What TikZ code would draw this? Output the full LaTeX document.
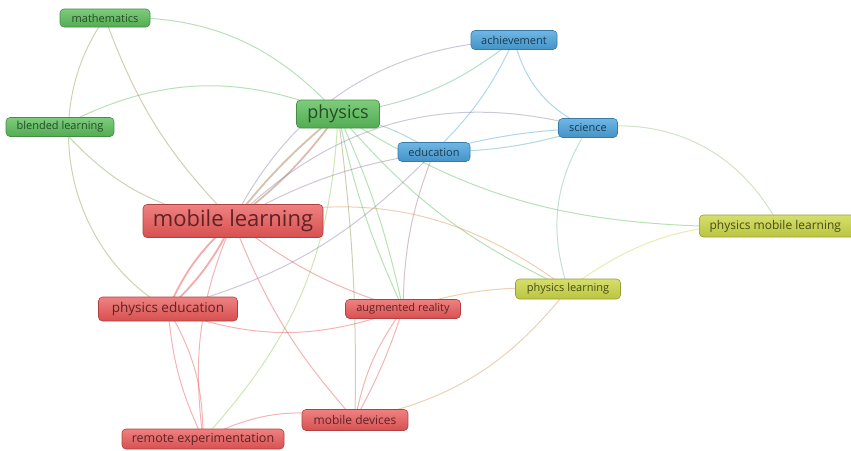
\documentclass[tikz,border=0pt]{standalone}
\usepackage{fontspec}
\setmainfont{Open Sans}
\usetikzlibrary{positioning}
\pgfdeclarelayer{background}
\pgfsetlayers{background,main}
\definecolor{clgreen}{HTML}{5CBF5C}
\definecolor{clblue}{HTML}{4BA4DE}
\definecolor{clred}{HTML}{EA5757}
\definecolor{clyellow}{HTML}{CBD646}
\tikzset{
    % --- Keyword box (one colour per cluster) ---
    kw/.style = {
        rectangle, rounded corners=4pt, line width=0.6pt,
        inner sep=0pt, minimum height=19pt, align=center
    },
    kw green/.style = {
        kw, draw=clgreen!75!black, top color=clgreen!80!white,
        bottom color=clgreen!90!black, text=clgreen!40!black
    },
    kw blue/.style = {
        kw, draw=clblue!75!black, top color=clblue!80!white,
        bottom color=clblue!90!black, text=clblue!35!black
    },
    kw red/.style = {
        kw, draw=clred!75!black, top color=clred!75!white,
        bottom color=clred!92!black, text=clred!40!black
    },
    kw yellow/.style = {
        kw, draw=clyellow!75!black, top color=clyellow!80!white,
        bottom color=clyellow!92!black, text=clyellow!35!black
    },
    % --- Co-occurrence link ---
    link/.style = {
        line width=1pt, opacity=0.45
    },
    % --- Strong link ---
    strong link/.style = {
        line width=1.8pt, opacity=0.5
    }
}
\newcommand{\fsz}[1]{\fontsize{#1}{#1}\selectfont}

\begin{document}
\begin{tikzpicture}[x=1pt, y=-1pt]
\useasboundingbox (0,0) rectangle (851,450);

% ---------------------------------------------------------
% Green cluster
% ---------------------------------------------------------
\node[kw green, minimum width=90pt, minimum height=18pt, font=\fsz{11}] (Math) at (105,18) {mathematics};
\node[kw green, minimum width=108pt, minimum height=19pt, font=\fsz{11}] (Blended) at (60,127) {blended learning};
\node[kw green, minimum width=83pt, minimum height=28pt, font=\fsz{18}] (Phys) at (338,114) {physics};

% ---------------------------------------------------------
% Blue cluster
% ---------------------------------------------------------
\node[kw blue, minimum width=86pt, font=\fsz{11}] (Achieve) at (514,40) {achievement};
\node[kw blue, minimum width=59pt, font=\fsz{11}] (Science) at (588,128) {science};
\node[kw blue, minimum width=72pt, font=\fsz{11}] (Edu) at (434,152) {education};

% ---------------------------------------------------------
% Red cluster
% ---------------------------------------------------------
\node[kw red, minimum width=180pt, minimum height=33pt, font=\fsz{22}] (MobLearn) at (233,221) {mobile learning};
\node[kw red, minimum width=139pt, minimum height=24pt, font=\fsz{13.5}] (PhysEdu) at (168,309) {physics education};
\node[kw red, minimum width=115pt, font=\fsz{11}] (AugReal) at (403,309) {augmented reality};
\node[kw red, minimum width=106pt, minimum height=21pt, font=\fsz{12}] (MobDev) at (355,420) {mobile devices};
\node[kw red, minimum width=162pt, minimum height=20pt, font=\fsz{12.5}] (Remote) at (203,439) {remote experimentation};

% ---------------------------------------------------------
% Yellow cluster
% ---------------------------------------------------------
\node[kw yellow, minimum width=160pt, minimum height=22pt, font=\fsz{12}, anchor=west] (PhysMob) at (699,226) {\hspace{-8pt}physics mobile learning};
\node[kw yellow, minimum width=105pt, minimum height=20pt, font=\fsz{11}] (PhysLearn) at (568,289) {physics learning};

% ---------------------------------------------------------
% Links
% ---------------------------------------------------------
\begin{pgfonlayer}{background}
% green links
\draw[link, clgreen] (Math.center) to[bend left=25] (Phys.center);
\draw[link, clgreen!70!clred] (Math.center) to[bend right=48] (PhysEdu.center);
\draw[link, clgreen!60!clred] (Math.center) to[bend right=12] (MobLearn.center);
\draw[link, clgreen] (Blended.center) to[bend left=25] (Phys.center);
\draw[link, clgreen!70!clred] (Blended.center) to[bend right=20] (MobLearn.center);
\draw[strong link, clgreen!45!clred] (Phys.center) to[bend right=6] (MobLearn.center);
\draw[strong link, clgreen!35!clred] (Phys.center) to[bend left=8] (MobLearn.center);
\draw[link, clgreen!70!clblue] (Phys.center) to[bend right=15] (Achieve.center);
\draw[link, clgreen!50!clblue] (Phys.center) to[bend left=10] (Edu.center);
\draw[link, clgreen] (Phys.center) to[bend right=15] (PhysMob.west);
\draw[link, clgreen] (Phys.center) to[bend right=12] (PhysLearn.center);
\draw[link, clgreen] (Phys.center) to[bend right=6] (AugReal.center);
\draw[link, clgreen] (Phys.center) to[bend left=6] (AugReal.center);
\draw[link, clgreen!60!clred] (Phys.center) to[bend left=4] (MobDev.center);
\draw[link, clgreen!50!clyellow] (Phys.center) to[bend left=20] (Remote.center);
% blue links
\draw[link, clblue] (Edu.center) to[bend right=10] (Achieve.center);
\draw[link, clblue] (Edu.center) to[bend left=6] (Science.center);
\draw[link, clblue!70!clgreen] (Edu.center) to[bend right=8] (Science.center);
\draw[link, clblue] (Achieve.center) to[bend right=25] (Science.center);
\draw[link, clblue!60!clyellow] (Science.center) to[bend right=25] (PhysLearn.center);
\draw[link, clblue!40!clyellow] (Science.center) to[bend left=35] (PhysMob.center);
\draw[link, clblue!50!clred] (Edu.center) to[bend right=10] (MobLearn.center);
\draw[link, clblue!60!clred] (Edu.center) to[bend left=15] (PhysEdu.center);
\draw[link, clblue!40!clred] (Edu.center) to[bend right=10] (AugReal.center);
\draw[link, clred!40!clblue] (MobLearn.center) to[bend left=30] (Achieve.center);
\draw[link, clred!40!clblue] (MobLearn.center) to[bend left=30] (Science.center);
% yellow links
\draw[link, clyellow] (PhysMob.center) to[bend right=20] (PhysLearn.center);
\draw[link, clred!50!clyellow] (MobLearn.center) to[bend left=25] (PhysLearn.center);
\draw[link, clred!50!clyellow] (AugReal.center) to[bend left=10] (PhysLearn.center);
\draw[link, clred!50!clyellow] (MobDev.center) to[bend right=20] (PhysLearn.center);
% red links
\draw[strong link, clred] (MobLearn.center) to[bend left=10] (PhysEdu.center);
\draw[strong link, clred] (MobLearn.center) to[bend right=12] (PhysEdu.center);
\draw[link, clred] (MobLearn.center) to[bend right=15] (Remote.center);
\draw[link, clred] (MobLearn.center) to[bend right=10] (AugReal.center);
\draw[link, clred] (MobLearn.center) to[bend right=10] (MobDev.center);
\draw[link, clred] (PhysEdu.center) to[bend right=10] (Remote.center);
\draw[link, clred] (PhysEdu.center) to[bend left=15] (Remote.center);
\draw[link, clred] (PhysEdu.center) to[bend right=20] (AugReal.center);
\draw[link, clred] (AugReal.center) to[bend right=12] (MobDev.center);
\draw[link, clred] (AugReal.center) to[bend left=5] (MobDev.center);
\draw[link, clred] (Remote.center) to[bend left=20] (MobDev.center);
\end{pgfonlayer}

\end{tikzpicture}
\end{document}
